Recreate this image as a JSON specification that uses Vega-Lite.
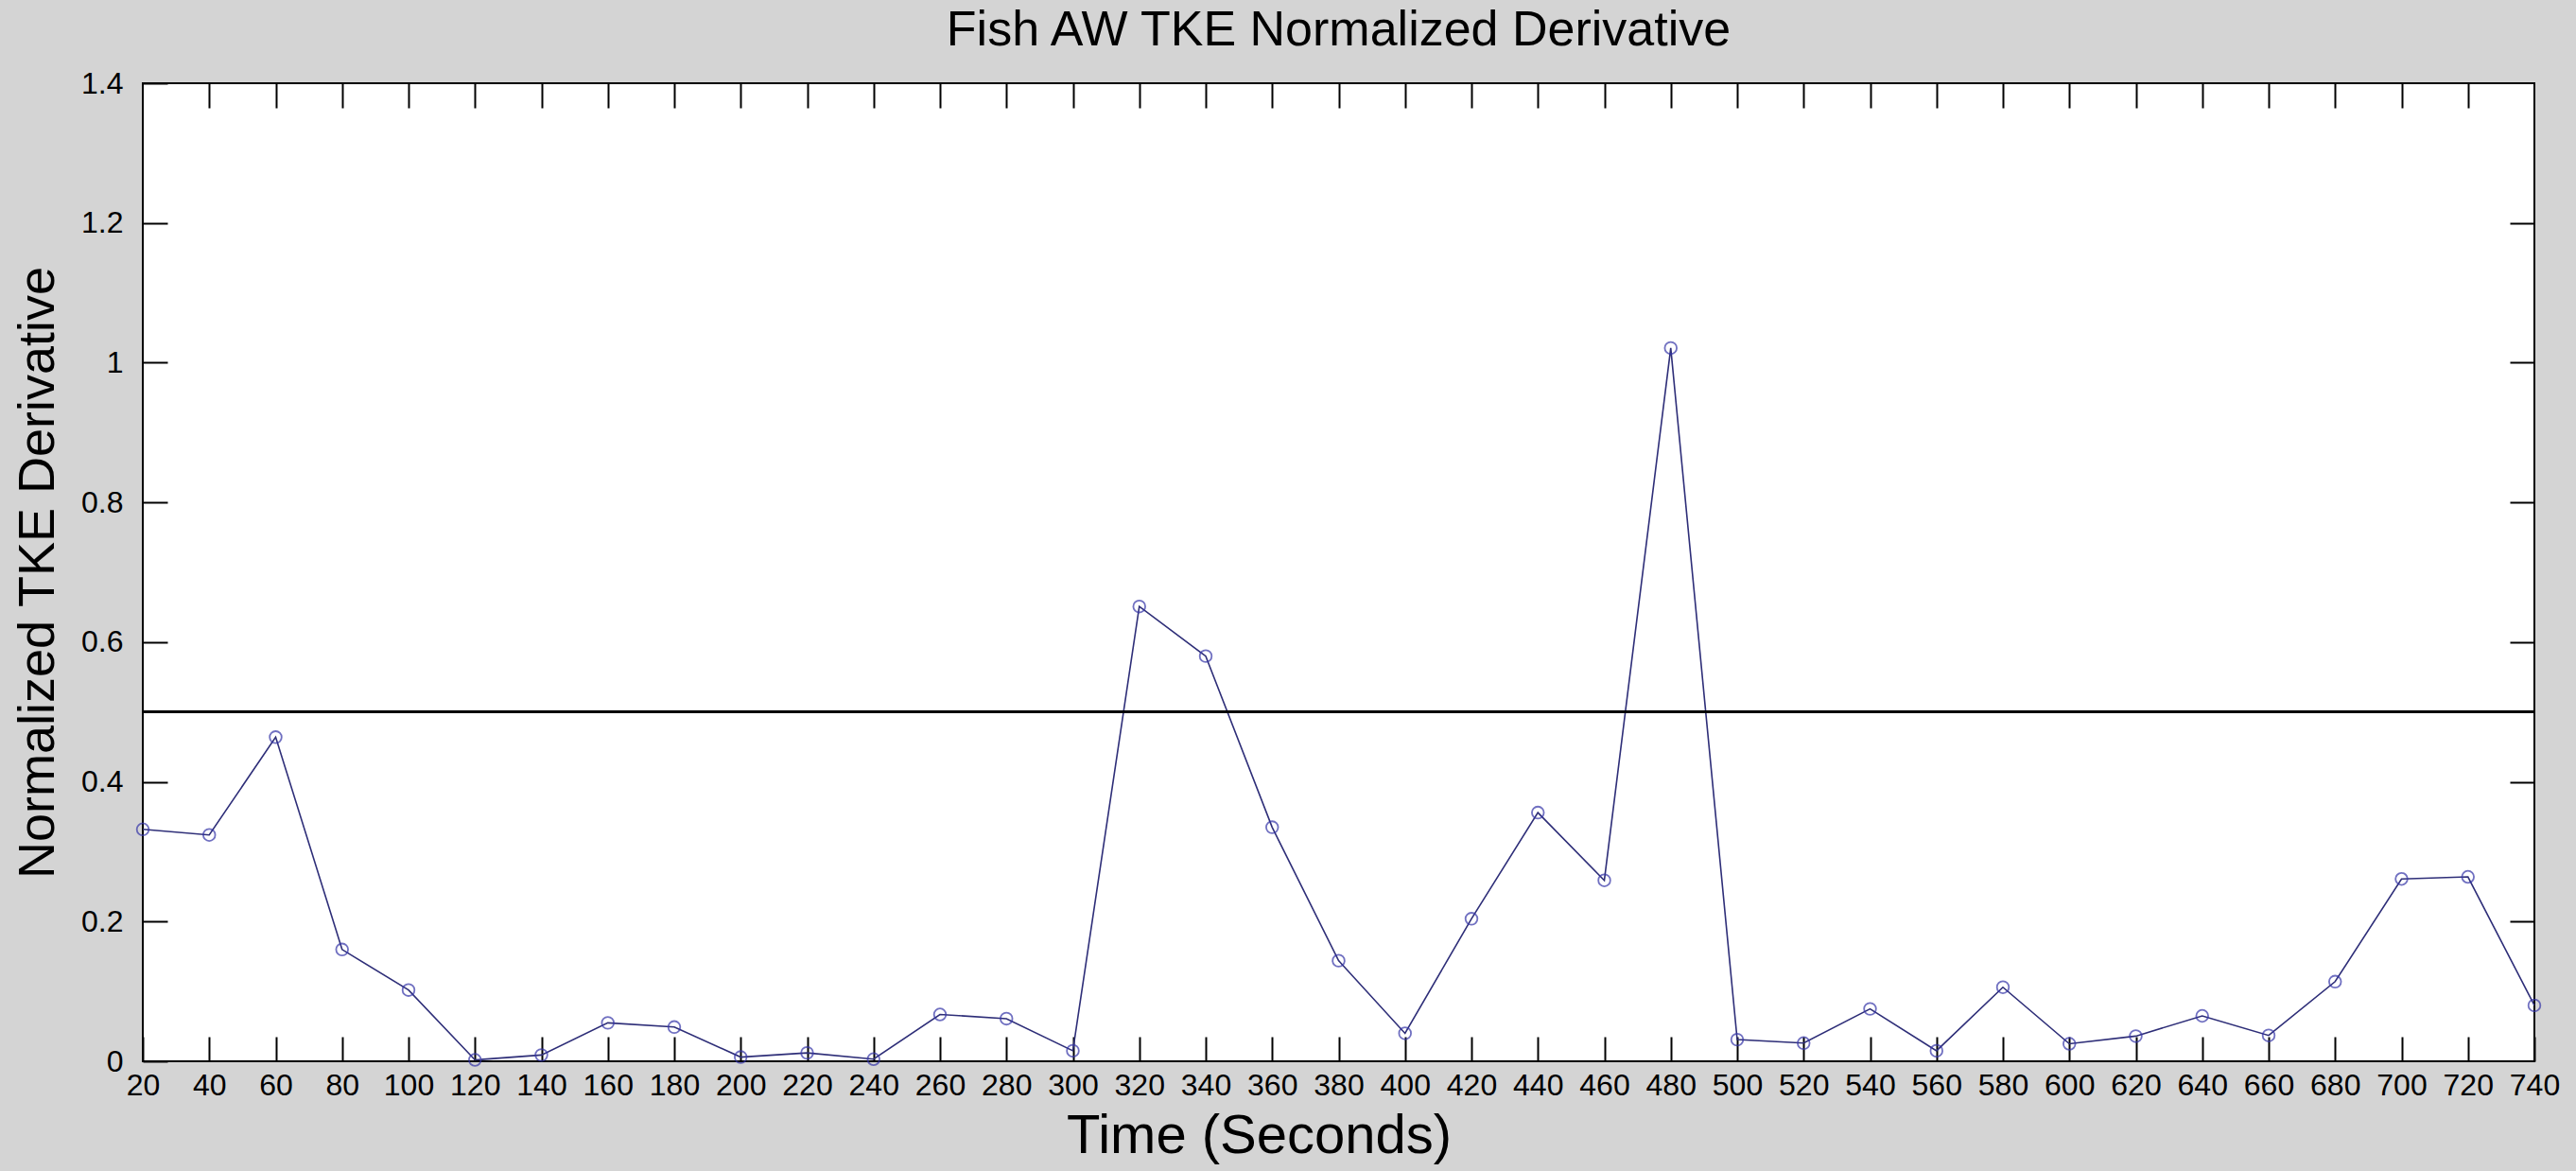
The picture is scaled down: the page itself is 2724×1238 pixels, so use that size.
{
  "$schema": "https://vega.github.io/schema/vega-lite/v6.json",
  "width": 2529,
  "height": 1034,
  "autosize": {"type": "none"},
  "padding": {"left": 151, "top": 88, "right": 44, "bottom": 116},
  "background": "#d4d4d4",
  "config": {
    "view": {"fill": "white", "stroke": "black", "strokeWidth": 2},
    "font": "Liberation Sans"
  },
  "title": {
    "text": "Fish AW TKE Normalized Derivative",
    "fontSize": 52,
    "font": "Liberation Sans",
    "fontWeight": "normal",
    "color": "black",
    "offset": 13,
    "anchor": "middle"
  },
  "data": {
    "values": [
      {"time": 20, "value": 0.332},
      {"time": 40, "value": 0.324},
      {"time": 60, "value": 0.464},
      {"time": 80, "value": 0.160},
      {"time": 100, "value": 0.102},
      {"time": 120, "value": 0.002},
      {"time": 140, "value": 0.009},
      {"time": 160, "value": 0.055},
      {"time": 180, "value": 0.049},
      {"time": 200, "value": 0.006},
      {"time": 220, "value": 0.012},
      {"time": 240, "value": 0.003},
      {"time": 260, "value": 0.067},
      {"time": 280, "value": 0.061},
      {"time": 300, "value": 0.015},
      {"time": 320, "value": 0.651},
      {"time": 340, "value": 0.580},
      {"time": 360, "value": 0.335},
      {"time": 380, "value": 0.144},
      {"time": 400, "value": 0.040},
      {"time": 420, "value": 0.204},
      {"time": 440, "value": 0.356},
      {"time": 460, "value": 0.259},
      {"time": 480, "value": 1.021},
      {"time": 500, "value": 0.031},
      {"time": 520, "value": 0.026},
      {"time": 540, "value": 0.075},
      {"time": 560, "value": 0.015},
      {"time": 580, "value": 0.106},
      {"time": 600, "value": 0.025},
      {"time": 620, "value": 0.036},
      {"time": 640, "value": 0.065},
      {"time": 660, "value": 0.037},
      {"time": 680, "value": 0.114},
      {"time": 700, "value": 0.261},
      {"time": 720, "value": 0.264},
      {"time": 740, "value": 0.080}
    ]
  },
  "layer": [
    {
      "mark": {"type": "line", "color": "#2e2e78", "strokeWidth": 1.6},
      "encoding": {
        "x": {
          "field": "time", "type": "quantitative",
          "scale": {"domain": [20, 740], "nice": false, "zero": false},
          "axis": {
            "orient": "bottom",
            "values": [20,40,60,80,100,120,140,160,180,200,220,240,260,280,300,320,340,360,380,400,420,440,460,480,500,520,540,560,580,600,620,640,660,680,700,720,740],
            "tickSize": -26, "tickWidth": 2, "tickColor": "black",
            "domain": false, "grid": false,
            "labelFontSize": 32, "labelColor": "black", "labelPadding": 36,
            "labelOverlap": false, "labelFlush": false, "labelBound": false,
            "title": "Time (Seconds)", "titleFontSize": 58, "titleFontWeight": "normal",
            "titleColor": "black", "titlePadding": 9, "titleX": 1180
          }
        },
        "y": {
          "field": "value", "type": "quantitative",
          "scale": {"domain": [0, 1.4], "nice": false},
          "axis": {
            "orient": "left",
            "values": [0, 0.2, 0.4, 0.6, 0.8, 1, 1.2, 1.4],
            "format": "~g",
            "tickSize": -26, "tickWidth": 2, "tickColor": "black",
            "domain": false, "grid": false,
            "labelFontSize": 32, "labelColor": "black", "labelPadding": 47,
            "labelOverlap": false, "labelFlush": false, "labelBound": false,
            "title": "Normalized TKE Derivative", "titleFontSize": 54, "titleFontWeight": "normal",
            "titleColor": "black", "titlePadding": 18
          }
        }
      }
    },
    {
      "mark": {"type": "point", "shape": "circle", "filled": false, "size": 160, "color": "#3535a8", "strokeWidth": 1.8},
      "encoding": {
        "x": {"field": "time", "type": "quantitative", "axis": null},
        "y": {"field": "value", "type": "quantitative", "axis": null}
      }
    },
    {
      "mark": {"type": "rule", "color": "black", "strokeWidth": 2},
      "encoding": {
        "y": {"datum": 0.5, "type": "quantitative", "axis": null}
      }
    },
    {
      "mark": {"type": "point", "opacity": 0},
      "encoding": {
        "x": {
          "field": "time", "type": "quantitative",
          "axis": {
            "orient": "top",
            "values": [40,60,80,100,120,140,160,180,200,220,240,260,280,300,320,340,360,380,400,420,440,460,480,500,520,540,560,580,600,620,640,660,680,700,720],
            "tickSize": -26, "tickWidth": 2, "tickColor": "black",
            "domain": false, "grid": false, "labels": false, "title": null
          }
        },
        "y": {
          "field": "value", "type": "quantitative",
          "axis": {
            "orient": "right",
            "values": [0.2, 0.4, 0.6, 0.8, 1, 1.2],
            "tickSize": -26, "tickWidth": 2, "tickColor": "black",
            "domain": false, "grid": false, "labels": false, "title": null
          }
        }
      }
    }
  ],
  "resolve": {"axis": {"x": "independent", "y": "independent"}}
}
